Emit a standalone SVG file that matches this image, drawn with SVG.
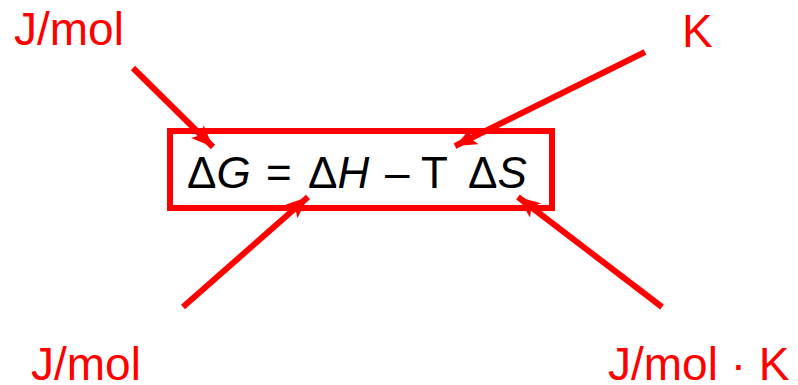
<svg xmlns="http://www.w3.org/2000/svg" width="798" height="385" viewBox="0 0 798 385">
<style>
.lbl{font-family:"Liberation Sans",Arial,sans-serif;font-size:46px;fill:#ff0000}
.eq{font-family:"Liberation Sans",Arial,sans-serif;font-size:44px;fill:#000}
.it{font-style:italic}
.conn line{stroke:#ff0000;stroke-width:6;marker-end:url(#ah)}
</style>
<defs>
<marker id="ah" markerUnits="userSpaceOnUse" markerWidth="24" markerHeight="20" refX="22" refY="9" orient="auto">
<path d="M0,0 L22,9 L0,18 L5,9 Z" fill="#ff0000"/>
</marker>
</defs>
<rect width="798" height="385" fill="#fff"/>
<g id="equation">
<rect x="170" y="131" width="382" height="77" fill="none" stroke="#ff0000" stroke-width="6"/>
<text class="eq" y="188"><tspan x="187">Δ</tspan><tspan class="it">G</tspan><tspan x="266">=</tspan><tspan x="308">Δ</tspan><tspan class="it">H</tspan><tspan x="385">–</tspan><tspan x="421">T</tspan><tspan x="468">Δ</tspan><tspan class="it">S</tspan></text>
</g>
<g id="label-tl"><text class="lbl" x="14" y="45">J/mol</text></g>
<g id="label-tr"><text class="lbl" x="682" y="47">K</text></g>
<g id="label-bl"><text class="lbl" x="31" y="380">J/mol</text></g>
<g id="label-br"><text class="lbl" x="608" y="380">J/mol · K</text></g>
<g id="connectors" class="conn">
<line x1="133" y1="68" x2="213" y2="147"/>
<line x1="645" y1="52" x2="455" y2="146"/>
<line x1="183" y1="307" x2="308" y2="197"/>
<line x1="662" y1="307" x2="518" y2="197"/>
</g>
</svg>
